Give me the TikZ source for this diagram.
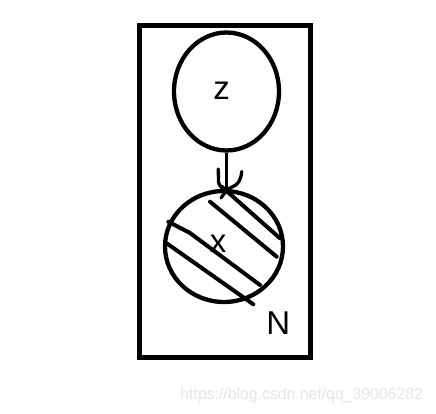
\documentclass[tikz,border=0pt]{standalone}
\usepackage{fontspec}
\setmainfont{Liberation Sans}
\usepackage{tikz}
\usetikzlibrary{shapes.geometric, calc}

\begin{document}
\begin{tikzpicture}[x=1pt, y=-1pt, line width=4.2pt,
        every node/.style={font=\fontsize{33}{36}\selectfont},
        var/.style={draw, ellipse, inner sep=0pt, line width=4.3pt},
        hatch/.style={line width=4pt, line cap=round}]
      \useasboundingbox (0,0) rectangle (436,414);

      % Plate
      \node[draw, rectangle, line width=5pt, minimum width=171pt, minimum height=332pt, inner sep=0pt] (plate) at (225,191.5) {};

      % Latent variable
      \node[var, minimum width=105pt, minimum height=118pt, label={[xshift=-5pt, yshift=1pt]center:z}] (z) at (226.5,91.5) {};

      % Observed variable
      \node[var, minimum width=118pt, minimum height=111pt, label={[xshift=-6pt, yshift=3pt]center:x}] (x) at (224,246.5) {};

      % Hatching of the observed variable
      \draw[hatch] (221.7,186.7) -- (280,238.3);
      \draw[hatch] (210,201.7) -- (276.7,256.7);
      \draw[hatch] (168.3,221.7) -- (190,233) -- (260,285);
      \draw[hatch] (166.7,243.3) -- (253.3,304.3);

      % Edge z -> x, hand drawn head
      \draw[line width=3.5pt] (z.south) -- (z.south |- x.north);
      \draw[line width=3.3pt, line cap=round] (218.3,169) -- (218.5,182) .. controls (219,187) and (224,189) .. (226,191) .. controls (224,194) and (222,196) .. (221,198);
      \draw[line width=3.3pt, line cap=round] (241.7,171.5) .. controls (241,180) and (238,185) .. (232,187) -- (226.5,190);

      % Plate label
      \node (n) at (278.3,323.3) {N};

      % Watermark
      \node[font=\fontsize{15.8}{18}\selectfont, text=black!10, anchor=base east, inner sep=0pt] (url) at (425,399.5) {https://blog.csdn.net/qq\_39006282};
    \end{tikzpicture}
\end{document}
